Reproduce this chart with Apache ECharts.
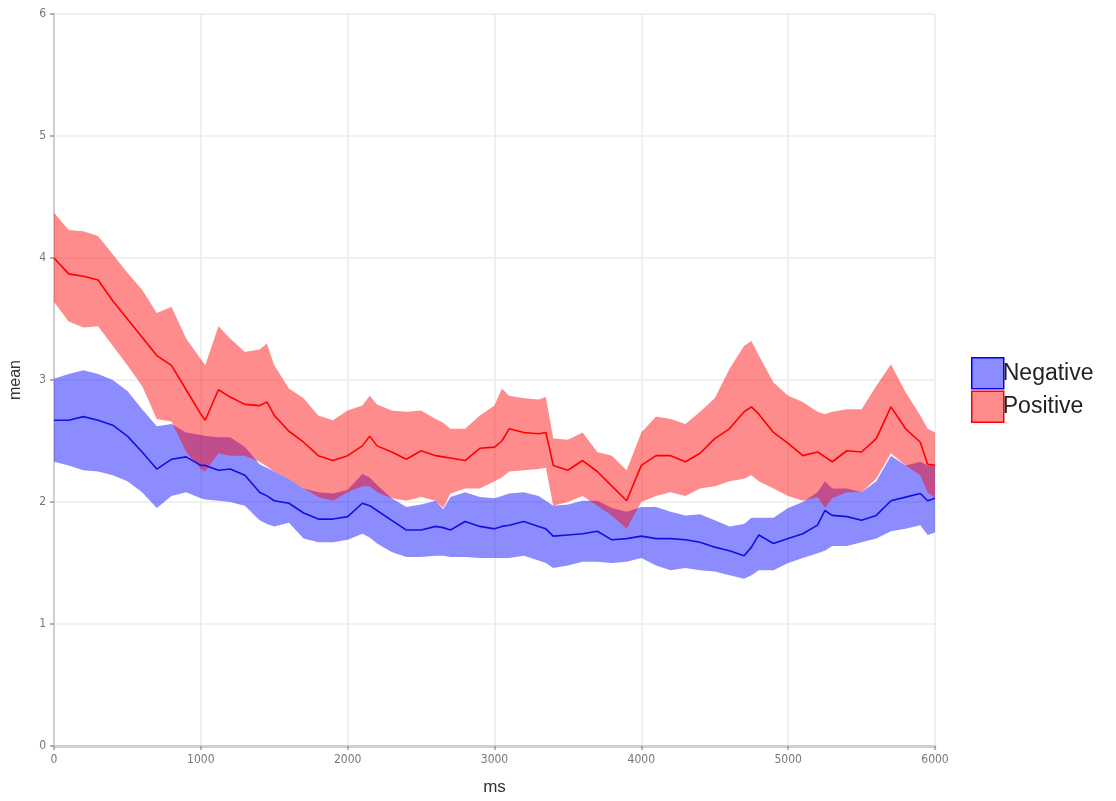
<!DOCTYPE html>
<html>
<head>
<meta charset="utf-8">
<script src="https://cdn.jsdelivr.net/npm/echarts@6/dist/echarts.min.js"></script>
<style>
  html, body { margin: 0; padding: 0; background: #fff; }
  #chart { width: 1116px; height: 801px; }
</style>
</head>
<body>
<div id="chart"></div>
<script>
// time points (ms)
const ms = [0, 100, 200, 300, 400, 500, 600, 700, 800, 900, 1000, 1030, 1120, 1200, 1300, 1400, 1450, 1500,
  1600, 1700, 1800, 1900, 2000, 2100, 2150, 2200, 2300, 2400, 2500, 2600, 2650, 2700, 2800, 2900, 3000, 3050,
  3100, 3200, 3300, 3350, 3400, 3500, 3600, 3700, 3800, 3900, 4000, 4100, 4200, 4300, 4400, 4500, 4600, 4700,
  4750, 4800, 4900, 5000, 5100, 5200, 5250, 5300, 5400, 5500, 5600, 5700, 5800, 5900, 5950, 6000];

// Positive: mean and ribbon bounds
const posMean = [4.0, 3.87, 3.85, 3.82, 3.65, 3.5, 3.35, 3.2, 3.12, 2.92, 2.72, 2.67, 2.92, 2.86, 2.8, 2.79, 2.82, 2.71,
  2.58, 2.49, 2.38, 2.34, 2.38, 2.46, 2.54, 2.46, 2.41, 2.35, 2.42, 2.38, 2.37, 2.36, 2.34, 2.44, 2.45, 2.5,
  2.6, 2.57, 2.56, 2.57, 2.3, 2.26, 2.34, 2.25, 2.13, 2.01, 2.3, 2.38, 2.38, 2.33, 2.4, 2.52, 2.6, 2.74,
  2.78, 2.72, 2.57, 2.48, 2.38, 2.41, 2.37, 2.33, 2.42, 2.41, 2.52, 2.78, 2.6, 2.49, 2.31, 2.3];
const posUpper = [4.37, 4.23, 4.22, 4.18, 4.03, 3.88, 3.74, 3.55, 3.6, 3.34, 3.17, 3.12, 3.44, 3.34, 3.23, 3.25, 3.3, 3.12,
  2.93, 2.85, 2.71, 2.67, 2.75, 2.79, 2.87, 2.8, 2.75, 2.74, 2.75, 2.68, 2.65, 2.6, 2.6, 2.71, 2.79, 2.93,
  2.87, 2.85, 2.84, 2.86, 2.52, 2.51, 2.57, 2.41, 2.38, 2.26, 2.57, 2.7, 2.68, 2.64, 2.74, 2.85, 3.09, 3.28,
  3.32, 3.2, 2.98, 2.87, 2.82, 2.74, 2.72, 2.74, 2.76, 2.76, 2.95, 3.13, 2.9, 2.71, 2.6, 2.57];
const posLower = [3.64, 3.48, 3.43, 3.44, 3.28, 3.12, 2.95, 2.68, 2.66, 2.41, 2.27, 2.25, 2.4, 2.38, 2.38, 2.33, 2.29, 2.25,
  2.19, 2.11, 2.04, 2.01, 2.08, 2.13, 2.13, 2.08, 2.03, 2.01, 2.04, 2.01, 1.95, 2.07, 2.11, 2.11, 2.17, 2.2,
  2.25, 2.26, 2.27, 2.28, 1.97, 2.0, 2.05, 1.97, 1.89, 1.78, 2.0, 2.05, 2.08, 2.05, 2.11, 2.13, 2.17, 2.19,
  2.22, 2.17, 2.11, 2.05, 2.01, 2.04, 1.95, 2.03, 2.08, 2.08, 2.19, 2.4, 2.3, 2.22, 2.08, 2.03];

// Negative: mean and ribbon bounds
const negMean = [2.67, 2.67, 2.7, 2.67, 2.63, 2.54, 2.41, 2.27, 2.35, 2.37, 2.3, 2.3, 2.26, 2.27, 2.22, 2.08, 2.05, 2.01,
  1.99, 1.91, 1.86, 1.86, 1.88, 1.99, 1.97, 1.93, 1.85, 1.77, 1.77, 1.8, 1.79, 1.77, 1.84, 1.8, 1.78, 1.8,
  1.81, 1.84, 1.8, 1.78, 1.72, 1.73, 1.74, 1.76, 1.69, 1.7, 1.72, 1.7, 1.7, 1.69, 1.67, 1.63, 1.6, 1.56,
  1.63, 1.73, 1.66, 1.7, 1.74, 1.81, 1.93, 1.89, 1.88, 1.85, 1.89, 2.01, 2.04, 2.07, 2.01, 2.03];
const negUpper = [3.01, 3.05, 3.08, 3.05, 3.0, 2.91, 2.76, 2.62, 2.64, 2.57, 2.55, 2.54, 2.53, 2.53, 2.45, 2.31, 2.28, 2.25,
  2.19, 2.11, 2.08, 2.07, 2.1, 2.23, 2.2, 2.14, 2.03, 1.96, 1.98, 2.01, 1.94, 2.04, 2.08, 2.04, 2.03, 2.05,
  2.07, 2.08, 2.05, 2.01, 1.97, 1.98, 2.01, 2.01, 1.95, 1.92, 1.96, 1.96, 1.92, 1.89, 1.9, 1.85, 1.8, 1.82,
  1.87, 1.87, 1.87, 1.95, 2.0, 2.08, 2.17, 2.11, 2.11, 2.08, 2.17, 2.38, 2.3, 2.33, 2.3, 2.3];
const negLower = [2.33, 2.3, 2.26, 2.25, 2.22, 2.17, 2.08, 1.95, 2.05, 2.08, 2.03, 2.02, 2.01, 2.0, 1.97, 1.85, 1.82, 1.8,
  1.83, 1.7, 1.67, 1.67, 1.69, 1.74, 1.71, 1.66, 1.59, 1.55, 1.55, 1.56, 1.56, 1.55, 1.55, 1.54, 1.54, 1.54,
  1.54, 1.56, 1.52, 1.5, 1.46, 1.48, 1.51, 1.51, 1.5, 1.51, 1.54, 1.48, 1.44, 1.46, 1.44, 1.43, 1.4, 1.37,
  1.4, 1.44, 1.44, 1.5, 1.54, 1.58, 1.6, 1.64, 1.64, 1.67, 1.7, 1.76, 1.78, 1.81, 1.73, 1.75];

const xTicks = { min: 0, max: 6000, interval: 1000 };
const yTicks = { min: 0, max: 6, interval: 1 };

const BLUE = '#0000ff';
const RED = '#ff0000';
const BLUE_FILL = 'rgba(0,0,255,0.45)';
const RED_FILL = 'rgba(255,0,0,0.45)';

const pairs = (ys) => ms.map((x, i) => [x, ys[i]]);

// ribbon as one polygon, drawn through the axes with api.coord
function ribbon(lower, upper, fill) {
  return {
    type: 'custom',
    silent: true,
    z: 2,
    data: ms.map((x, i) => [x, lower[i], upper[i]]),
    encode: { x: 0, y: [1, 2] },
    renderItem: (params, api) => {
      if (params.dataIndex !== 0) return null;
      const top = ms.map((x, i) => api.coord([x, upper[i]]));
      const bot = ms.map((x, i) => api.coord([x, lower[i]])).reverse();
      return {
        type: 'polygon',
        shape: { points: top.concat(bot) },
        style: { fill: fill, stroke: null }
      };
    }
  };
}

const chart = echarts.init(document.getElementById('chart'), null, { renderer: 'canvas' });

const axisGrey = '#cfcfcf';
const gridGrey = '#ebebeb';
const tickFont = 'DejaVu Sans Condensed, Liberation Sans Narrow, sans-serif';

chart.setOption({
  animation: false,
  backgroundColor: '#ffffff',
  grid: { left: 53, right: 181, top: 14, bottom: 53 },
  legend: {
    orient: 'vertical',
    left: 966, top: 352,
    itemWidth: 32, itemHeight: 31, itemGap: 1,
    icon: 'rect',
    textStyle: { fontFamily: 'Liberation Sans', fontSize: 23, color: '#222', padding: [0, 0, 0, -6] },
    data: [
      { name: 'Negative', itemStyle: { color: BLUE_FILL, borderColor: BLUE, borderWidth: 1.5 } },
      { name: 'Positive', itemStyle: { color: RED_FILL, borderColor: RED, borderWidth: 1.5 } }
    ]
  },
  xAxis: {
    type: 'value', ...xTicks,
    name: 'ms', nameLocation: 'middle', nameGap: 33,
    nameTextStyle: { fontFamily: 'Liberation Sans', fontSize: 17, color: '#333' },
    axisLine: { show: true, onZero: false, lineStyle: { color: axisGrey, width: 3 } },
    axisTick: { show: true, length: 4, lineStyle: { color: '#999', width: 1.5 } },
    axisLabel: { color: '#777', fontSize: 12, fontFamily: tickFont, margin: 8, formatter: v => String(v) },
    splitLine: { show: true, lineStyle: { color: gridGrey, width: 1.5 } }
  },
  yAxis: {
    type: 'value', ...yTicks,
    name: 'mean', nameLocation: 'middle', nameGap: 30, nameRotate: 90,
    nameTextStyle: { fontFamily: 'Liberation Sans', fontSize: 16, color: '#333' },
    axisLine: { show: true, onZero: false, lineStyle: { color: axisGrey, width: 2 } },
    axisTick: { show: true, length: 4, lineStyle: { color: '#999', width: 1.5 } },
    axisLabel: { color: '#777', fontSize: 12, fontFamily: tickFont, margin: 8 },
    splitLine: { show: true, lineStyle: { color: gridGrey, width: 1.5 } }
  },
  series: [
    ribbon(negLower, negUpper, BLUE_FILL),
    ribbon(posLower, posUpper, RED_FILL),
    {
      name: 'Negative', type: 'line', data: pairs(negMean), symbol: 'none',
      lineStyle: { color: '#1010e0', width: 1.6 }, itemStyle: { color: BLUE }, z: 3
    },
    {
      name: 'Positive', type: 'line', data: pairs(posMean), symbol: 'none',
      lineStyle: { color: RED, width: 1.6 }, itemStyle: { color: RED }, z: 3
    }
  ]
});
</script>
</body>
</html>
